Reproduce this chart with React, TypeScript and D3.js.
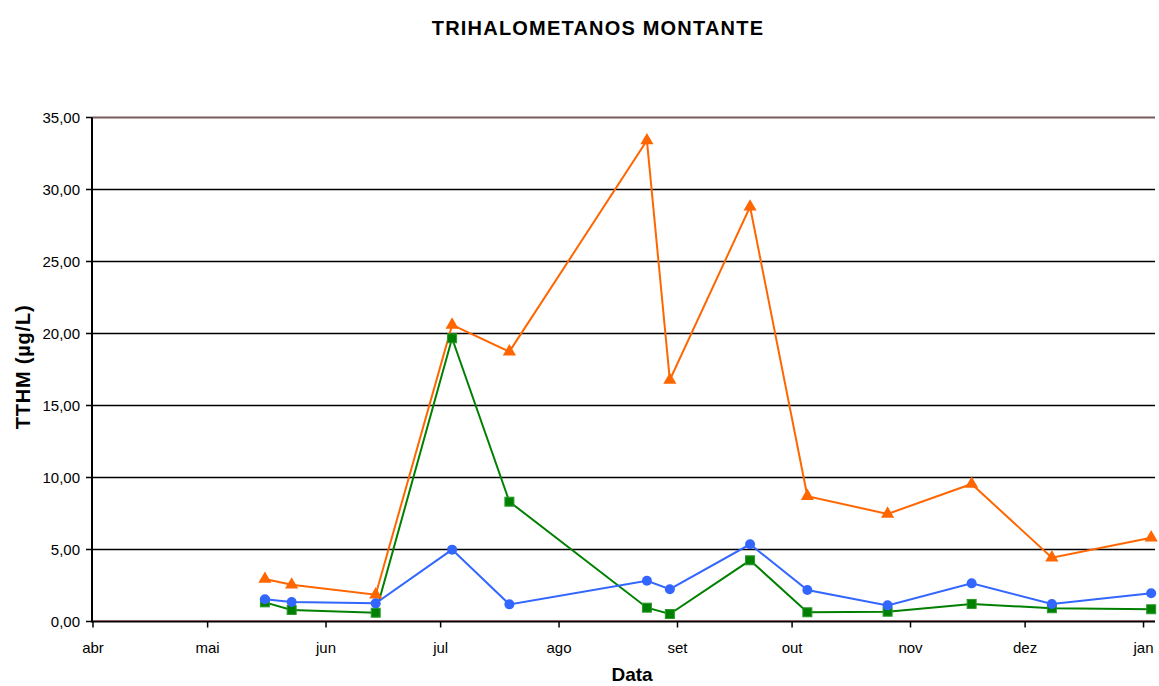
import React from "react";
import * as d3 from "d3";

const dates = ["2008-05-16","2008-05-23","2008-06-14","2008-07-04","2008-07-19","2008-08-24","2008-08-30","2008-09-20","2008-10-05","2008-10-26","2008-11-17","2008-12-08","2009-01-03"];
const orangeValues = [2.95, 2.55, 1.86, 20.6, 18.74, 33.4, 16.77, 28.8, 8.7, 7.47, 9.55, 4.43, 5.82];
const blueValues = [1.54, 1.35, 1.26, 4.99, 1.19, 2.83, 2.24, 5.36, 2.19, 1.12, 2.65, 1.22, 1.96];
const greenValues = [1.33, 0.8, 0.61, 19.67, 8.32, 0.96, 0.52, 4.25, 0.64, 0.68, 1.22, 0.92, 0.85];
const monthLabels = ["abr","mai","jun","jul","ago","set","out","nov","dez","jan"];
const yTicks = [0, 5, 10, 15, 20, 25, 30, 35];

const W = 1159, H = 686;
const left = 92, right = 1155, top = 117.5, bottom = 621.5;
const font = "'Liberation Sans', Arial, sans-serif";

export default function App() {
  const parse = d3.timeParse("%Y-%m-%d");
  const xs = d3.scaleTime().domain([parse("2008-04-01")!, parse("2009-01-04")!]).range([left + 1, right]);
  const ys = d3.scaleLinear().domain([0, 35]).range([bottom, top]);
  const monthDates = monthLabels.map((_, i) => d3.timeMonth.offset(parse("2008-04-01")!, i));
  const fmt = (v: number) => v.toFixed(2).replace(".", ",");
  const pts = (vals: number[]) => dates.map((d, i) => [xs(parse(d)!), ys(vals[i])] as [number, number]);
  const line = d3.line<[number, number]>();
  const orange = pts(orangeValues), blue = pts(blueValues), green = pts(greenValues);
  const tri = d3.symbol().type(d3.symbolTriangle).size(75)() as string;

  return (
    <svg width={W} height={H} style={{ position: "absolute", left: 0, top: 0 }} fontFamily={font}>
      <rect width={W} height={H} fill="#fff" />
      <text x={598} y={35} textAnchor="middle" fontSize={20} letterSpacing={1.2} fontWeight="bold">TRIHALOMETANOS MONTANTE</text>
      {yTicks.map(t => (
        <g key={t}>
          {t > 0 && t < 35 && <line x1={left} x2={right} y1={ys(t)} y2={ys(t)} stroke="#000" strokeWidth={1.5} />}
          <line x1={left - 6} x2={left} y1={ys(t)} y2={ys(t)} stroke="#000" strokeWidth={1.5} />
          <text x={80} y={ys(t) + 5.5} textAnchor="end" fontSize={15}>{fmt(t)}</text>
        </g>
      ))}
      <line x1={left} x2={right} y1={ys(35)} y2={ys(35)} stroke="#7a5a5a" strokeWidth={2} />
      <line x1={left} x2={right} y1={ys(0)} y2={ys(0)} stroke="#000" strokeWidth={2} />
      <line x1={left} x2={right} y1={ys(0) - 1} y2={ys(0) - 1} stroke="#8a5a5a" strokeWidth={0.8} />
      <line x1={left} x2={left} y1={ys(35)} y2={ys(0) + 1} stroke="#000" strokeWidth={2} />
      {monthDates.map((d, i) => (
        <g key={i}>
          <line x1={xs(d)} x2={xs(d)} y1={bottom} y2={bottom + 6} stroke="#000" strokeWidth={1.5} />
          <text x={xs(d)} y={653} textAnchor="middle" fontSize={15}>{monthLabels[i]}</text>
        </g>
      ))}
      <text x={632} y={681} textAnchor="middle" fontSize={19} fontWeight="bold">Data</text>
      <text transform={`translate(30,${367}) rotate(-90)`} textAnchor="middle" fontSize={20} letterSpacing={0.8} fontWeight="bold">TTHM (µg/L)</text>

      <path d={line(orange)!} fill="none" stroke="#FF6600" strokeWidth={2} />
      <path d={line(green)!} fill="none" stroke="#008000" strokeWidth={2} />
      <path d={line(blue)!} fill="none" stroke="#3366FF" strokeWidth={2} />
      {orange.map(([x, y], i) => <path key={"o" + i} d={tri} transform={`translate(${x},${y})`} fill="#FF6600" />)}
      {green.map(([x, y], i) => <rect key={"g" + i} x={x - 4.5} y={y - 4.5} width={9} height={9} fill="#008000" stroke="#2a9a2a" strokeWidth={1} />)}
      {blue.map(([x, y], i) => <circle key={"b" + i} cx={x} cy={y} r={5} fill="#3366FF" />)}
    </svg>
  );
}
